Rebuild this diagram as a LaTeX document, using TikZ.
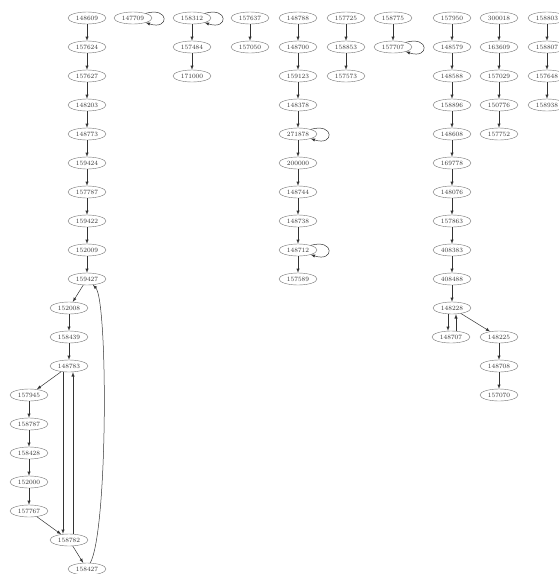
\documentclass[tikz,border=0pt]{standalone}
\usepackage{tikz}
\usetikzlibrary{shapes,arrows}

\begin{document}
\begin{tikzpicture}[knoten/.style={ellipse, draw=black!55, minimum width=38pt, minimum height=12pt, inner sep=0pt, text=black!80, font=\fontsize{6.5}{7}\selectfont}, x=1pt, y=1pt,
			>=latex,   %Voreinstellung für Pfeilspitzen
			kante/.style={->, draw=black!80, line width=0.5pt}]
			%Rahmen
			\useasboundingbox (0,0) rectangle (558,-574);
			% Knoten linke Spalte
			\foreach \n/\x/\y/\t in {a0/87/0/148609, a1/87/1/157624, a2/87/2/157627, a3/87/3/148203, a4/87/4/148773, a5/87/5/159424, a6/87/6/157787, a7/87/7/159422, a8/87/8/152009, a9/87/9/159427, a10/69/10/152008, a11/69/11/158439, a12/69/12/148783, a13/29/13/157945, a14/29/14/158787, a15/29/15/158428, a16/29/16/152000, a17/29/17/157767, a18/69/18/158782, a19/87/19/158427} \node[knoten] (\n) at (\x,{-18-29*\y}) {\t};
			% Knoten übrige Spalten
			\foreach \n/\x/\y/\t in {b0/133/0/147709, c0/192/0/158312, c1/192/1/157484, c2/192/2/171000, d0/250/0/157637, d1/250/1/157050, e0/298/0/148788, e1/298/1/148700, e2/298/2/159123, e3/298/3/148378, e4/298/4/271878, e5/298/5/200000, e6/298/6/148744, e7/298/7/148738, e8/298/8/148712, e9/298/9/157589, f0/346/0/157725, f1/346/1/158853, f2/346/2/157573, g0/393/0/158775, g1/393/1/157707} \node[knoten] (\n) at (\x,{-18-29*\y}) {\t};
			\foreach \n/\x/\y/\t in {h0/452/0/157950, h1/452/1/148579, h2/452/2/148588, h3/452/3/158896, h4/452/4/148608, h5/452/5/169778, h6/452/6/148076, h7/452/7/157863, h8/452/8/408383, h9/452/9/408488, h10/452/10/148228, h11/451/11/148707, j0/499/11/148225, j1/499/12/148708, j2/499/13/157070, i0/499/0/300018, i1/499/1/163609, i2/499/2/157029, i3/499/3/150776, i4/499/4/157752, k0/547/0/158803, k1/547/1/158807, k2/547/2/157648, k3/547/3/158938} \node[knoten] (\n) at (\x,{-18-29*\y}) {\t};
			% Kanten
			\foreach \u/\v in {a0/a1, a1/a2, a2/a3, a3/a4, a4/a5, a5/a6, a6/a7, a7/a8, a8/a9, a9/a10, a10/a11, a11/a12, a12/a13, a13/a14, a14/a15, a15/a16, a16/a17, a17/a18, a18/a19, c0/c1, c1/c2, d0/d1, e0/e1, e1/e2, e2/e3, e3/e4, e4/e5, e5/e6, e6/e7, e7/e8, e8/e9, f0/f1, f1/f2, g0/g1, h0/h1, h1/h2, h2/h3, h3/h4, h4/h5, h5/h6, h6/h7, h7/h8, h8/h9, h9/h10, h10/j0, j0/j1, j1/j2, i0/i1, i1/i2, i2/i3, i3/i4, k0/k1, k1/k2, k2/k3} \draw[kante] (\u) -- (\v);
			% Doppelkanten
			\draw[kante] ([xshift=-6pt]a12.south) -- ([xshift=-6pt]a18.north);
			\draw[kante] ([xshift=4pt]a18.north) -- ([xshift=4pt]a12.south);
			\draw[kante] ([xshift=-4pt]h10.south) -- ([xshift=-3pt]h11.north);
			\draw[kante] ([xshift=5pt]h11.north) -- ([xshift=4pt]h10.south);
			% Rückkante
			\draw[kante] (a19) .. controls (108,-530) and (108,-300) .. (a9);
			% Schleifen
			\foreach \n in {b0, c0, e4, e8, g1} \draw[kante] (\n.20) .. controls +(24,7) and +(24,-8) .. (\n.-20);
		\end{tikzpicture}
\end{document}
